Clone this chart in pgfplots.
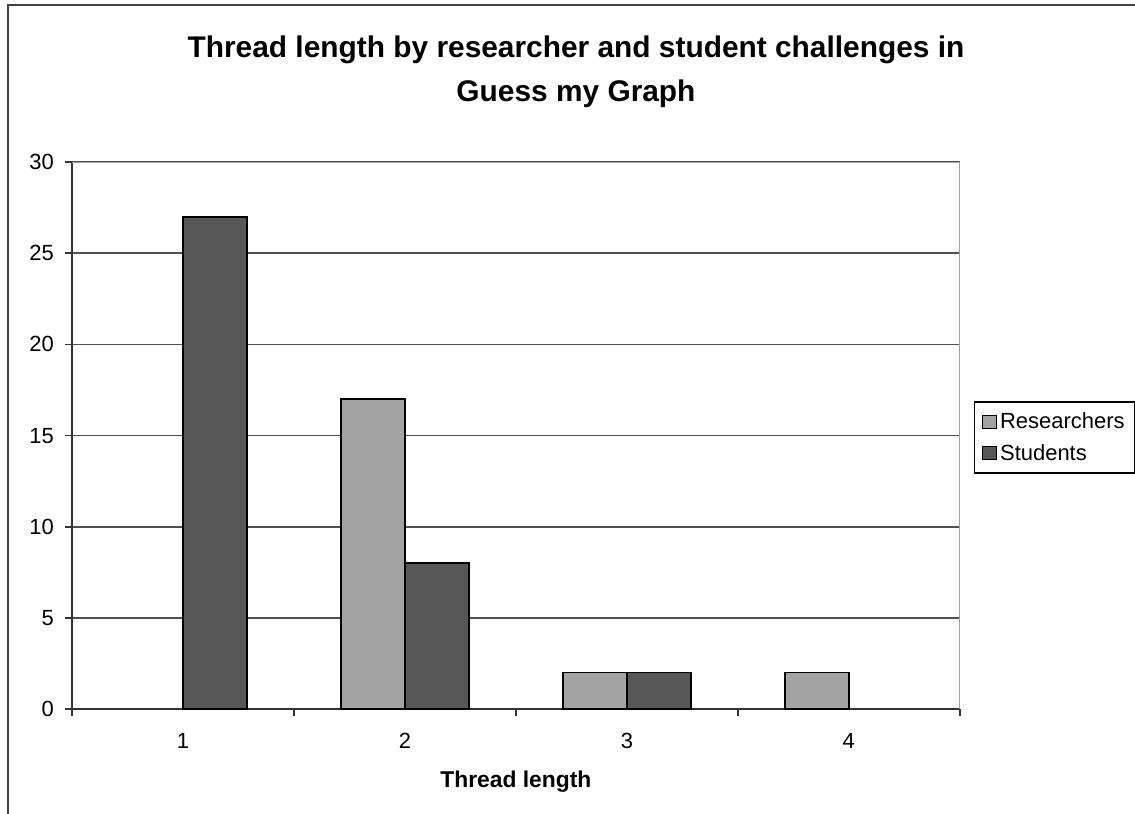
\documentclass[border=0pt]{standalone}
\usepackage{fontspec}
\setmainfont{Liberation Sans}
\usepackage{pgfplots}
\pgfplotsset{compat=1.18}
\definecolor{resgray}{HTML}{A3A3A3}
\definecolor{stugray}{HTML}{575757}
\definecolor{gridgray}{HTML}{505050}
\definecolor{framegray}{HTML}{A0A0A0}

\begin{document}
\begin{tikzpicture}[x=0.02cm,y=0.02cm]
\useasboundingbox (0,0) rectangle (1135,814);
\draw[line width=1.1pt, color=black!75] (8,-10) -- (8,809) -- (1145,809);
\node[font=\bfseries\fontsize{17}{25}\selectfont, align=center] at (576,742)
  {Thread length by researcher and student challenges in\\Guess my Graph};
\begin{axis}[
  at={(1.44cm,2.1cm)}, anchor=south west,
  scale only axis, width=17.76cm, height=10.94cm,
  ybar=0pt, bar width=0.288,
  xmin=0.5, xmax=4.5, ymin=0, ymax=30,
  xtick={1,2,3,4}, minor xtick={0.5,1.5,2.5,3.5,4.5},
  ytick={0,5,...,30},
  axis lines*=left,
  axis line style={-, line width=1pt, color=black!80},
  major x tick style={draw=none},
  tick style={line width=1pt, color=black!80},
  tick align=outside,
  major tick length=0.14cm, minor tick length=0.14cm,
  ymajorgrids, grid style={gridgray, line width=1pt},
  ticklabel style={font=\fontsize{12.5}{15}\selectfont},
  yticklabel style={xshift=-0.1cm},
  xticklabel style={yshift=-0.22cm},
  /pgf/number format/assume math mode=true,
  xlabel={Thread length},
  xlabel style={font=\bfseries\fontsize{13}{15}\selectfont, yshift=-0.2cm},
  legend cell align=left,
  legend style={at={(1.0158,0.563)}, anchor=north west, draw=black, line width=0.8pt,
    font=\fontsize{12.5}{14}\selectfont, row sep=3.5pt, inner xsep=4pt, inner ysep=4pt},
]
\addplot[fill=resgray, draw=black, line width=1pt,
  legend image code/.code={\draw[fill=resgray, draw=black, line width=0.6pt] (0cm,-0.13cm) rectangle (0.28cm,0.13cm);}]
  coordinates {(2,17) (3,2) (4,2)};
\addplot[fill=stugray, draw=black, line width=1pt,
  legend image code/.code={\draw[fill=stugray, draw=black, line width=0.6pt] (0cm,-0.13cm) rectangle (0.28cm,0.13cm);}]
  coordinates {(1,27) (2,8) (3,2)};
\legend{Researchers, Students}
\draw[framegray, line width=1.2pt] (rel axis cs:0,1) -- (rel axis cs:1,1) -- (rel axis cs:1,0);
\end{axis}
\end{tikzpicture}
\end{document}
